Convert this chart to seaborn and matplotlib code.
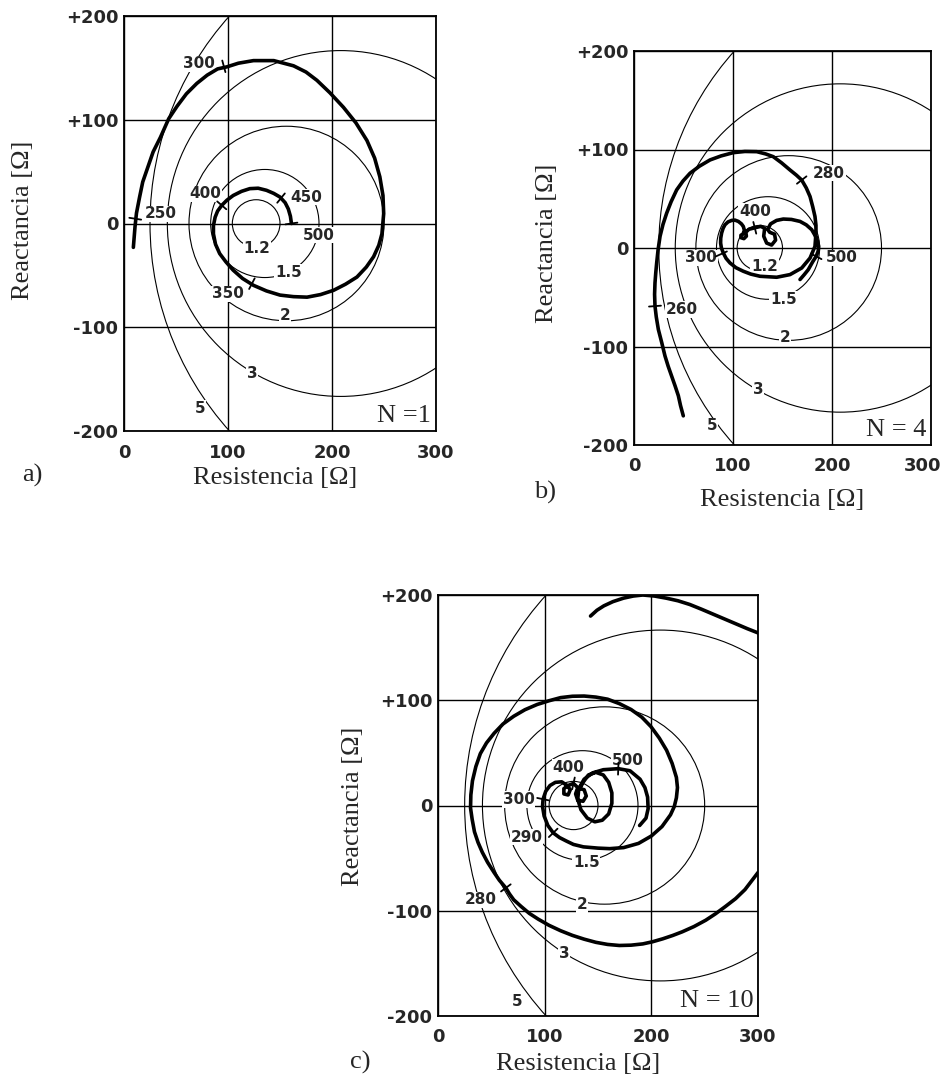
import numpy as np
import matplotlib
matplotlib.use("Agg")
import matplotlib.pyplot as plt
from matplotlib.patches import Circle
from matplotlib.transforms import ScaledTranslation
import seaborn as sns

# Impedancia de referencia y circulos de ROE
Z0 = 125.0
roe = [1.2, 1.5, 2, 3, 5]

# ---- panel a) N = 1 ----
a_r = [9, 10.6, 12, 15, 18, 23, 28, 35, 43, 51, 60, 70, 80, 90, 99, 110, 124.5, 144, 163, 175,
       185.5, 198, 211, 223, 233.6, 241, 246, 249, 249.7, 248, 245, 240, 233, 224, 213, 201.5,
       189, 176, 163, 150, 137, 124.5, 114, 105, 98, 92, 88, 86, 86, 87.6, 90, 94, 99, 105,
       113, 121, 129, 137, 144, 150, 155, 158, 160, 161]
a_x = [-23, -3, 10, 25.5, 40, 54.5, 69, 83, 101, 113, 125, 135, 143, 149, 151, 154.5, 157, 157,
       152, 146, 138, 126, 112, 97, 80, 63, 45, 27, 9.5, -10, -21, -32, -42, -51.6, -58.5,
       -64.4, -68.5, -71, -70.5, -69, -65, -59.6, -53, -45, -37, -29, -20, -10, -2, 6, 12,
       17.5, 22.5, 27, 31, 33.6, 34, 32, 29, 25.5, 20, 14, 7, 0]
a_freq = ["250", "300", "350", "400", "450", "500"]
a_tick_r = [10.8, 96, 123, 94, 151, 161]
a_tick_x = [4.6, 151.5, -58, 17.5, 24.5, 0]
a_lab_r = [35, 72, 100, 78, 175, 187]
a_lab_x = [9.5, 154, -67.6, 28.7, 25.5, -11.4]
a_roe_r = [127.7, 158, 155, 123, 73]
a_roe_x = [-24.3, -46.8, -88.5, -144.8, -178.5]

# ---- panel b) N = 4 ----
b_r = [49.8, 47, 44.8, 41.5, 38, 34.5, 31.3, 28, 24.6, 22.5, 21.2, 20.8, 21.2, 22, 22.9, 24.3,
       26.3, 29.3, 33, 37.5, 43.1, 49.5, 56.6, 66, 76.8, 88, 100.3, 112, 124, 133, 140.7, 149,
       157.6, 164, 169.4, 174, 177.8, 180.5, 182.8, 183.8, 183.8, 182.8, 177.8, 169.4, 157.6,
       144.1, 127.3, 118, 110.4, 103, 97, 93, 90.2, 88.3, 87.5, 87.6, 88.5, 90, 91.9, 95, 98.6,
       102, 105.4, 108.5, 110.4, 111.5, 110, 108, 108, 111, 113.5, 113, 116, 122, 128, 132,
       131, 134, 139, 143, 142, 137, 135, 138, 144, 150.8, 159, 167.7, 174, 179.5, 183, 185.5,
       186.5, 186, 184, 180.5, 176, 172, 167.7]
b_x = [-170.4, -160, -150, -140, -130, -120, -109.6, -96, -82.7, -70, -59, -47, -35.4, -25,
       -15.2, -2, 11.8, 24, 35.4, 47, 59, 68, 75.9, 83, 89.4, 93.5, 96.8, 98, 97.8, 95.5, 92.7,
       86.5, 79.2, 74, 69, 61, 52.3, 42, 32, 23, 15.2, 1.6, -10.2, -20.3, -27, -29.7, -28.7,
       -26.5, -23.6, -20, -15.2, -10.5, -5, 0, 5, 10, 15.2, 20, 23.6, 26.5, 28, 28.3, 27, 24.5,
       21.9, 18, 14, 13, 10.5, 9.5, 12, 16, 19, 20.5, 22, 20, 12, 5, 3, 8, 14, 16, 19, 24.5,
       28, 29.4, 29, 27, 23.5, 18.6, 12.5, 6.8, 1.5, -3.3, -8.5, -14, -22, -27, -32]
b_freq = ["260", "280", "300", "400", "500"]
b_tick_r = [21.2, 169.4, 88.3, 122, 184]
b_tick_x = [-59, 69, -6, 20.5, -8.5]
b_lab_r = [48, 197, 68, 122, 210]
b_lab_x = [-62.4, 76, -10, 37, -10]
b_roe_r = [132, 150.8, 152.5, 125.6, 78.5]
b_roe_x = [-18.6, -52.3, -91, -143.4, -180.5]

# ---- panel c) N = 10 ----
c_r = [143, 149, 155.5, 164, 173.9, 183, 192, 203, 214, 225, 236, 247, 258.4, 270, 280.5, 290,
       300, 318, 335, 345, 348, 345, 335, 318, 300, 287.8, 279, 269.4, 260, 251, 240, 229, 220,
       210.6, 201, 192, 181, 170, 159, 148, 137, 126, 115, 104, 94, 85.6, 78, 71, 67, 63.6,
       57.5, 52.6, 46.5, 41.5, 37.5, 34.2, 32, 30.5, 30.8, 32.3, 35.5, 39.7, 45.5, 52.6, 61,
       71, 81.5, 93, 104, 115, 126, 137, 148, 159, 170, 181, 191, 199.6, 207.5, 214.3, 219.5,
       223.5, 224.5, 223.5, 221.5, 218, 210, 200, 188, 174, 161, 150, 136.3, 127, 120.6, 114,
       108, 103, 99.5, 98, 98.5, 101, 105, 110, 116, 121, 124, 122, 118, 118, 122, 127, 131,
       129, 131, 136, 139, 137, 133, 136, 141, 148, 155, 160, 163, 163, 160, 154, 147, 140,
       134, 131, 132, 137, 145, 155, 169, 180, 189.4, 194, 196.5, 197, 195, 189]
c_x = [180, 185.5, 189.7, 193.7, 197, 199, 200, 199, 197, 194.5, 191, 186.5, 181.6, 176.5, 172,
       168, 164, 150, 120, 80, 30, -10, -35, -52, -63.7, -79.9, -88.5, -96, -103, -109, -115,
       -120, -123.5, -126.7, -129.5, -131.5, -132.7, -133, -132, -130, -127, -123.4, -119,
       -113.8, -108, -102.5, -96, -89.6, -84, -78.3, -71, -63.7, -54, -44.4, -35, -25, -13,
       -2.4, 10, 23.4, 37, 49.3, 59.5, 68.6, 77.5, 84.8, 91, 96, 99.5, 102.5, 103.8, 104, 103,
       101, 96.8, 91.2, 84, 75, 64, 52.5, 40, 26.7, 17, 7.3, -1, -8.8, -20, -29, -36, -40, -41,
       -40.5, -39.3, -37, -33.9, -30.5, -26, -19, -10, -1, 6, 13.5, 19, 22, 22.5, 19, 15, 10,
       11, 16, 19, 21, 17, 11, 5, 4, 9, 15, 16, 22, 29, 31.5, 29, 22, 12, 2, -8, -14, -15.5,
       -12, -4, 6, 16, 25, 31, 34, 35, 33, 25, 17, 8, -3, -12, -19]
c_freq = ["280", "290", "300", "400", "500"]
c_tick_r = [63.6, 108, 98.5, 127, 169]
c_tick_x = [-78.3, -26, 6, 21, 35]
c_lab_r = [40, 83, 75.5, 122, 178]
c_lab_x = [-89.5, -30, 5.7, 36, 43]
c_roe_r = [139, 135, 118, 74.6]
c_roe_x = [-54, -94.4, -141, -186]

x_ticks = [0, 100, 200, 300]
y_ticks = [-200, -100, 0, 100, 200]
y_ticklabels = ["-200", "-100", "0", "+100", "+200"]

W, H = 945, 1091

sns.set_theme(style="white")
plt.rcParams["font.family"] = ["DejaVu Sans"]
SERIF = ["Liberation Serif", "DejaVu Serif"]

fig = plt.figure(figsize=(W / 100, H / 100), dpi=100)


def px_axes(left, top, right, bottom):
    return fig.add_axes([left / W, 1 - bottom / H, (right - left) / W, (bottom - top) / H])


def add_ticks(ax, r, x, tr, tx):
    # marcas cortas perpendiculares a la curva
    pts = ax.transData.transform(np.column_stack([r, x]))
    inv = ax.transData.inverted()
    for pr, px in zip(tr, tx):
        p = ax.transData.transform((pr, px))
        i = int(np.argmin(np.hypot(pts[:, 0] - p[0], pts[:, 1] - p[1])))
        d = pts[min(i + 1, len(pts) - 1)] - pts[max(i - 1, 0)]
        n = np.array([-d[1], d[0]]) / np.hypot(*d)
        seg = inv.transform(np.array([p - 6 * n, p + 6 * n]))
        ax.plot(seg[:, 0], seg[:, 1], color="black", lw=1.3, zorder=4)


def draw_panel(ax, r, x, freq, tr, tx, lr, lx, roe_lbl, rr, rx, n_text):
    ax.set_xlim(0, 300)
    ax.set_ylim(-200, 200)
    ax.set_xticks(x_ticks)
    ax.set_yticks(y_ticks)
    ax.set_xticklabels([str(v) for v in x_ticks])
    ax.set_yticklabels(y_ticklabels)
    ax.tick_params(length=0, labelsize=13, pad=4)
    ax.tick_params(axis="x", pad=9)
    for lab in ax.get_xticklabels() + ax.get_yticklabels():
        lab.set_fontweight("bold")
    ax.grid(True, color="black", lw=1.0)
    ax.set_axisbelow(True)
    for sp in ax.spines.values():
        sp.set_color("black")
        sp.set_linewidth(1.3)

    # circulos de ROE constante
    for s in roe:
        cen = Z0 * (s * s + 1) / (2 * s)
        rad = Z0 * (s * s - 1) / (2 * s)
        ax.add_patch(Circle((cen, 0), rad, fill=False, ec="black", lw=0.8, zorder=2))
    for t, px_, py_ in zip(roe_lbl, rr, rx):
        ax.text(px_, py_, t, ha="center", va="center", fontsize=11, fontweight="bold",
                zorder=2.5, bbox=dict(fc="white", ec="none", pad=0.6))

    # lugar de impedancia
    sns.lineplot(x=r, y=x, sort=False, estimator=None, color="black", lw=2.6,
                 solid_joinstyle="round", solid_capstyle="round", ax=ax, zorder=3)
    ax.set_xlabel("")
    ax.set_ylabel("")
    add_ticks(ax, r, x, tr, tx)
    for t, px_, py_ in zip(freq, lr, lx):
        ax.text(px_, py_, t, ha="center", va="center", fontsize=11, fontweight="bold",
                zorder=2.5, bbox=dict(fc="white", ec="none", pad=0.4))

    ax.text(0.985, 0.01, n_text, transform=ax.transAxes, ha="right", va="bottom",
            fontsize=19, family=SERIF, zorder=6, bbox=dict(fc="white", ec="none", pad=0.5))


ax_a = px_axes(124, 16, 436, 431)
draw_panel(ax_a, a_r, a_x, a_freq, a_tick_r, a_tick_x, a_lab_r, a_lab_x,
           ["1.2", "1.5", "2", "3", "5"], a_roe_r, a_roe_x, "N =1")

ax_b = px_axes(634, 51, 931, 445)
draw_panel(ax_b, b_r, b_x, b_freq, b_tick_r, b_tick_x, b_lab_r, b_lab_x,
           ["1.2", "1.5", "2", "3", "5"], b_roe_r, b_roe_x, "N = 4")
# el ultimo rotulo del eje x queda pegado al borde de la figura
last = ax_b.get_xticklabels()[-1]
last.set_transform(last.get_transform() + ScaledTranslation(-0.08, 0, fig.dpi_scale_trans))

ax_c = px_axes(438, 595, 758, 1016)
draw_panel(ax_c, c_r, c_x, c_freq, c_tick_r, c_tick_x, c_lab_r, c_lab_x,
           ["1.5", "2", "3", "5"], c_roe_r, c_roe_x, "N = 10")


def ftext(px_, py_, s, **kw):
    fig.text(px_ / W, 1 - py_ / H, s, ha="center", va="center", family=SERIF, fontsize=19, **kw)


ftext(23, 220, "Reactancia [Ω]", rotation=90)
ftext(547, 243, "Reactancia [Ω]", rotation=90)
ftext(353, 806, "Reactancia [Ω]", rotation=90)
ftext(275, 478, "Resistencia [Ω]")
ftext(782, 500, "Resistencia [Ω]")
ftext(578, 1064, "Resistencia [Ω]")
ftext(32, 475, "a)")
ftext(545, 492, "b)")
ftext(360, 1062, "c)")

fig.savefig("out.png", dpi=100)
